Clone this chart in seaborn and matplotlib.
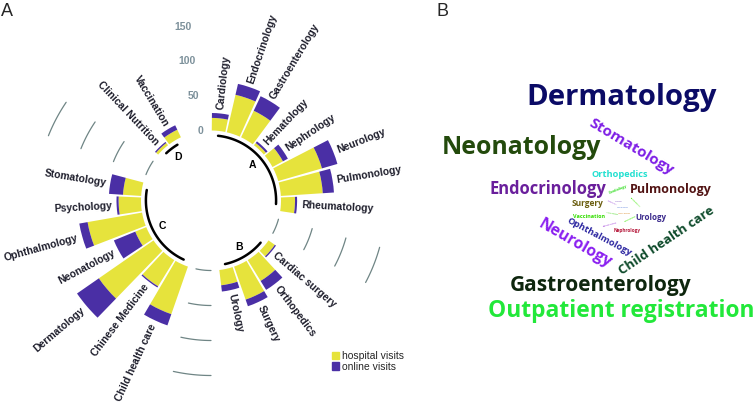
import numpy as np
import pandas as pd
import matplotlib
matplotlib.use("Agg")
import matplotlib.pyplot as plt
import seaborn as sns
from matplotlib.patches import Patch

# ---- panel A: visits per department ----
groups = ["A", "B", "C", "D"]
departments = [
    ["Cardiology", "Endocrinology", "Gastroenterology", "Hematology",
     "Nephrology", "Neurology", "Pulmonology", "Rheumatology"],
    ["Cardiac surgery", "Orthopedics", "Surgery", "Urology"],
    ["Child health care", "Chinese Medicine", "Dermatology", "Neonatology",
     "Ophthalmology", "Psychology", "Stomatology"],
    ["Clinical Nutrition", "Vaccination"],
]
hospital_visits = [
    [18, 55, 42, 4, 17, 65, 60, 20],
    [11, 35, 50, 22],
    [72, 44, 95, 17, 79, 32, 26],
    [4, 12],
]
online_visits = [
    [7, 16, 23, 3, 8, 23, 16, 3],
    [2, 15, 10, 9],
    [17, 2, 38, 33, 12, 3, 20],
    [2, 7],
]
scale_ticks = [0, 50, 100, 150]
series_names = ["hospital visits", "online visits"]

# ---- panel B: word cloud words ----
words = ["Dermatology", "Stomatology", "Neonatology", "Orthopedics",
         "Endocrinology", "Pulmonology", "Surgery", "Vaccination", "Urology",
         "Nephrology", "Ophthalmology", "Neurology", "Child health care",
         "Gastroenterology", "Outpatient registration",
         "Cardiology", "Rheumatology", "Hematology", "Psychology",
         "Cardiac surgery", "Clinical Nutrition", "Chinese Medicine",
         "Hematology", "Psychology"]
word_colors = ["#0b0b66", "#7f1fe6", "#234a0c", "#22e0d0",
               "#6a1f9c", "#521414", "#6b5e10", "#33dd00", "#3b2a8c",
               "#b5173a", "#2b25a0", "#8a1ff0", "#0d4a2a",
               "#0e260e", "#22e83a",
               "#33dd22", "#55ee22", "#b070e0", "#a080d0",
               "#7090e0", "#66dd44", "#e0a050", "#b060e0", "#55ee22"]
# layout: centre x, centre y (px from top-left), rotation, span (px)
word_layout = [
    (622, 98, 0, 191), (631, 147, -31, 96), (521, 148, 0, 160),
    (620, 175, 0, 57), (548, 189, 0, 117), (671, 190, 0, 82),
    (587, 203, 0, 32), (589, 216, 0, 32), (651, 217, 0, 31),
    (627, 231, 0, 27), (599, 237, -28, 72), (575, 244, -30, 82),
    (667, 241, 34, 112), (601, 285, 0, 182), (621, 311, 0, 267),
    (618, 189, 22, 20), (635, 202, -45, 14), (612, 203, -25, 11),
    (619, 202, 0, 8), (622, 207, 0, 7), (612, 213, -10, 10),
    (624, 214, 0, 6), (610, 224, 15, 15), (630, 219, 25, 13),
]

YELLOW = "#e6e33c"
PURPLE = "#4a2fa5"
LABEL_C = "#1d1d2b"
GRID_C = "#6f8585"
TICK_C = "#7d919b"
W, H = 756, 404
EMPTY = 2

sns.set_theme(style="white")
plt.rcParams["font.family"] = ["Liberation Sans", "DejaVu Sans"]

rows = []
slot = 0
bounds = []
for g, names, hv, ov in zip(groups, departments, hospital_visits, online_visits):
    start = slot + 1
    for n, h, o in zip(names, hv, ov):
        slot += 1
        rows.append(dict(group=g, dept=n, hospital=h, online=o, slot=slot))
    bounds.append((g, start, slot))
    slot += EMPTY
n_slots = slot
step = 2 * np.pi / n_slots
df = pd.DataFrame(rows)
df["theta"] = (df["slot"] - 0.5) * step


def slot_theta(s):
    return (s - 0.5) * step


fig = plt.figure(figsize=(W / 100, H / 100), dpi=100)

cx, cy, rad = 211, 200.5, 196
ax = fig.add_axes([(cx - rad) / W, (H - cy - rad) / H, 2 * rad / W, 2 * rad / H],
                  projection="polar")
ax.set_theta_zero_location("N")
ax.set_theta_direction(-1)
ax.set_ylim(-100, 180)
ax.set_axis_off()

bar_w = step * 0.9
ax.bar(df["theta"], df["hospital"], width=bar_w, bottom=0, color=YELLOW,
       linewidth=0)
ax.bar(df["theta"], df["online"], width=bar_w, bottom=df["hospital"],
       color=PURPLE, linewidth=0)

# department labels
for _, r in df.iterrows():
    deg = np.degrees(r.theta)
    if deg < 180:
        rot, ha = 90 - deg, "left"
    else:
        rot, ha = 270 - deg, "right"
    ax.text(r.theta, r.hospital + r.online + 6, r.dept, rotation=rot,
            rotation_mode="anchor", ha=ha, va="center", fontsize=7.5,
            fontweight="bold", color=LABEL_C)

# short grid arcs in the gaps between groups
for (g0, s0, e0), (g1, s1, e1) in zip(bounds[:-1], bounds[1:]):
    t = np.linspace(slot_theta(e0 + 1), slot_theta(s1 - 1), 20)
    for v in scale_ticks:
        ax.plot(t, np.full_like(t, v), color=GRID_C, lw=0.9)

# scale labels in the last gap
for v in scale_ticks:
    ax.text(slot_theta(n_slots), v, str(v), ha="right", va="center",
            fontsize=7.5, fontweight="bold", color=TICK_C)

# group arcs and names
for g, s, e in bounds:
    t = np.linspace(slot_theta(s), slot_theta(e), 40)
    ax.plot(t, np.full_like(t, -7), color="black", lw=1.8)
    ax.text(slot_theta((s + e) / 2), -22, g, ha="center", va="center",
            fontsize=7.5, fontweight="bold", color="black")

fig.legend(handles=[Patch(color=YELLOW), Patch(color=PURPLE)],
           labels=series_names, loc="upper left",
           bbox_to_anchor=(332 / W, 1 - 351 / H), frameon=False,
           fontsize=7.5, handlelength=0.7, handleheight=0.7,
           handletextpad=0.3, labelspacing=0.05, borderpad=0,
           borderaxespad=0)

fig.text(1 / W, 1 - 11 / H, "A", ha="left", va="center", fontsize=13)
fig.text(436 / W, 1 - 11 / H, "B", ha="left", va="center", fontsize=13)

# ---- panel B: word cloud ----
renderer = fig.canvas.get_renderer()
for word, col, (x, y, rot, span) in zip(words, word_colors, word_layout):
    t = fig.text(x / W, 1 - y / H, word, ha="center", va="center",
                 fontsize=10, fontweight="bold", color=col,
                 family=["Open Sans", "DejaVu Sans"])
    w0 = t.get_window_extent(renderer).width
    t.set_fontsize(10 * span / w0)
    t.set_rotation(rot)
    t.set_rotation_mode("anchor")

fig.savefig("out.png", dpi=100)
